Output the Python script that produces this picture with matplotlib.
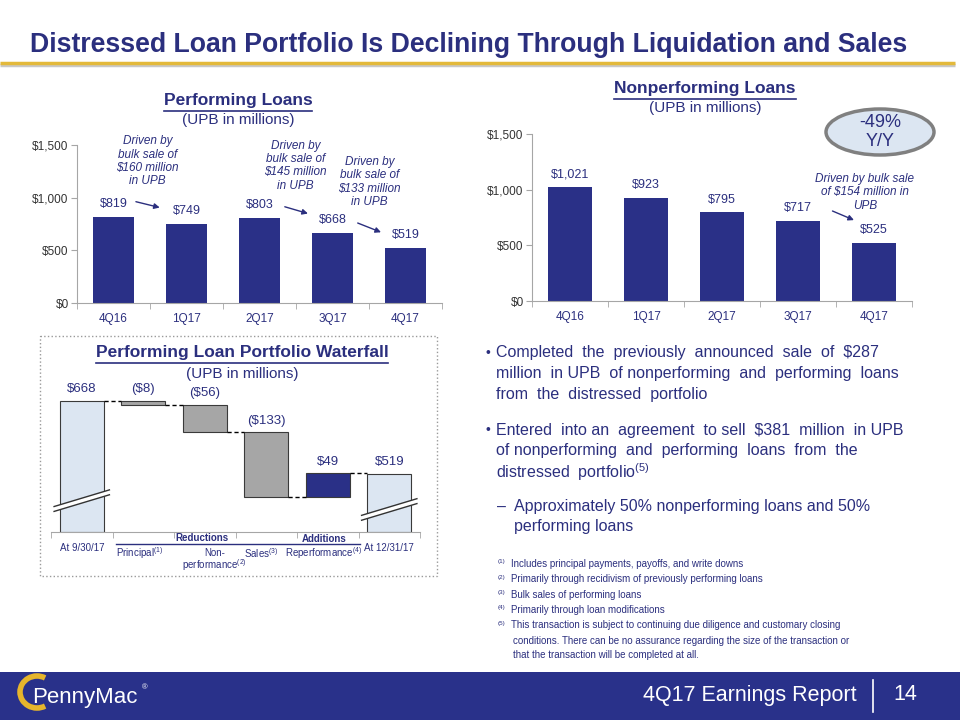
import matplotlib
matplotlib.use("Agg")
import matplotlib.pyplot as plt
from matplotlib.patches import Rectangle, Ellipse, Arc, Polygon
import numpy as np

plt.rcParams["font.family"] = ["Liberation Sans", "DejaVu Sans"]
plt.rcParams["mathtext.default"] = "regular"

# ---------- data ---------- #
quarters = ["4Q16", "1Q17", "2Q17", "3Q17", "4Q17"]
performing = [819, 749, 803, 668, 519]
nonperforming = [1021, 923, 795, 717, 525]
y_ticks = [0, 500, 1000, 1500]

wf_labels = ["At 9/30/17", "Principal$^{(1)}$", "Non-\nperformance$^{(2)}$",
             "Sales$^{(3)}$", "Reperformance$^{(4)}$", "At 12/31/17"]
wf_start, wf_end = 668, 519
wf_deltas = [-8, -56, -133, 49]
wf_text = ["$668", "($8)", "($56)", "($133)", "$49", "$519"]

NAVY = "#2A3087"
TXT = "#2B2F7E"
LIGHT = "#DCE6F2"
GOLD = "#E3B93B"
W, H = 960, 720


def rect(x0, y0, x1, y1):
    return [x0 / W, 1 - y1 / H, (x1 - x0) / W, (y1 - y0) / H]


fig = plt.figure(figsize=(9.6, 7.2), dpi=100)
ov = fig.add_axes([0, 0, 1, 1])
ov.set_xlim(0, W); ov.set_ylim(H, 0); ov.axis("off"); ov.set_zorder(-1)


def underline(t, y_off=2):
    fig.canvas.draw()
    bb = t.get_window_extent(renderer=fig.canvas.get_renderer())
    y = H - bb.y0 + y_off
    ov.plot([bb.x0, bb.x1], [y, y], color=TXT, lw=1.2)


# ---------- header / footer ---------- #
ov.text(30, 45, "Distressed Loan Portfolio Is Declining Through Liquidation and Sales",
        fontsize=19.2, fontweight="bold", color=TXT, va="center", ha="left")
ov.plot([0, 955], [65, 65], color="#C8C8C8", lw=2.5, solid_capstyle="butt")
ov.plot([0, 955], [63, 63], color=GOLD, lw=2.5, solid_capstyle="butt")
ov.add_patch(Rectangle((0, 672), W, 48, color="#29318A", lw=0))
ov.text(857, 695, "4Q17 Earnings Report", color="white", fontsize=15.5, ha="right", va="center")
ov.plot([873, 873], [680, 712], color="white", lw=1.2)
ov.text(905, 695, "14", color="white", fontsize=15.5, ha="center", va="center")
ov.add_patch(Arc((37, 692), 34, 32, theta1=60, theta2=300, color="#E6B52C", lw=4))
ov.text(32, 697, "PennyMac", color="white", fontsize=16, ha="left", va="center")
ov.text(145, 688, "®", color="white", fontsize=5.5, ha="center", va="center")


def style_bar_axes(ax):
    ax.set_facecolor("none")
    for s in ["top", "right"]:
        ax.spines[s].set_visible(False)
    for s in ["left", "bottom"]:
        ax.spines[s].set_color("#A6A6A6")
    ax.set_ylim(0, 1500)
    ax.set_yticks(y_ticks)
    ax.set_yticklabels([f"${v:,}" for v in y_ticks], fontsize=8.5, color="#333333")
    ax.tick_params(axis="y", length=4, color="#A6A6A6", pad=2)
    ax.set_xlim(-0.5, 4.5)
    ax.set_xticks(range(len(quarters)))
    ax.set_xticklabels(quarters, fontsize=8.5, color=TXT)
    ax.set_xticks(np.arange(-0.5, 5, 1), minor=True)
    ax.tick_params(axis="x", which="major", length=0, pad=7)
    ax.tick_params(axis="x", which="minor", length=4, color="#A6A6A6")


def value_labels(ax, vals):
    for i, v in enumerate(vals):
        ax.annotate(f"${v:,}", (i, v), xytext=(0, 5), textcoords="offset points",
                    ha="center", va="bottom", fontsize=9, color=TXT)


arrow_kw = dict(arrowstyle="-|>", color=TXT, lw=1.0, mutation_scale=8)

# ---------- performing loans ---------- #
ax1 = fig.add_axes(rect(77, 145, 442, 303))
ax1.bar(range(len(quarters)), performing, width=0.57, color=NAVY)
style_bar_axes(ax1)
value_labels(ax1, performing)
t = ov.text(238, 101, "Performing Loans", fontsize=12.5, fontweight="bold", color=TXT,
            ha="center", va="center")
underline(t)
ov.text(238, 120, "(UPB in millions)", fontsize=11, color=TXT, ha="center", va="center")
notes = [(0.47, 1345, "Driven by\nbulk sale of\n$160 million\nin UPB", (0.27, 968), (0.67, 900)),
         (2.49, 1305, "Driven by\nbulk sale of\n$145 million\nin UPB", (2.31, 921), (2.70, 842)),
         (3.51, 1150, "Driven by\nbulk sale of\n$133 million\nin UPB", (3.31, 769), (3.70, 662))]
for x, y, s, a, b in notes:
    ax1.text(x, y, s, ha="center", va="center", fontsize=8.5, style="italic",
             color=TXT, linespacing=1.15, clip_on=False)
    ax1.annotate("", xy=b, xytext=a, arrowprops=arrow_kw, annotation_clip=False)

# ---------- nonperforming loans ---------- #
ax2 = fig.add_axes(rect(532, 134, 912, 301))
ax2.bar(range(len(quarters)), nonperforming, width=0.57, color=NAVY)
style_bar_axes(ax2)
value_labels(ax2, nonperforming)
t = ov.text(705, 89, "Nonperforming Loans", fontsize=12.5, fontweight="bold", color=TXT,
            ha="center", va="center")
underline(t)
ov.text(705, 108, "(UPB in millions)", fontsize=11, color=TXT, ha="center", va="center")
ax2.text(3.88, 975, "Driven by bulk sale\nof $154 million in\nUPB", ha="center", va="center",
         fontsize=8.5, style="italic", color=TXT, linespacing=1.15, clip_on=False)
ax2.annotate("", xy=(3.77, 717), xytext=(3.42, 818), arrowprops=arrow_kw, annotation_clip=False)
ov.add_patch(Ellipse((880, 132), 108, 46, facecolor=LIGHT, edgecolor="#808080", lw=2.5))
ov.text(880, 132, "-49%\nY/Y", fontsize=13, color=TXT, ha="center", va="center", linespacing=1.1)

# ---------- waterfall ---------- #
ov.add_patch(Rectangle((40, 336), 397, 240, fill=False, edgecolor="#9A9A9A", lw=1, ls=":"))
t = ov.text(242, 353, "Performing Loan Portfolio Waterfall", fontsize=12.5, fontweight="bold",
            color=TXT, ha="center", va="center")
underline(t)
ov.text(242, 374, "(UPB in millions)", fontsize=11, color=TXT, ha="center", va="center")

ax3 = fig.add_axes(rect(51, 340, 420, 532))
ax3.set_facecolor("none")
floor = 400
ax3.set_ylim(floor, 792)
ax3.set_xlim(-0.5, 5.5)
bw = 0.71
levels = np.concatenate([[wf_start], wf_start + np.cumsum(wf_deltas)])
ax3.bar(0, wf_start - floor, bottom=floor, width=bw, color=LIGHT, edgecolor="#3A3A3A", lw=0.8)
ax3.bar(5, wf_end - floor, bottom=floor, width=bw, color=LIGHT, edgecolor="#3A3A3A", lw=0.8)
for i, d in enumerate(wf_deltas):
    lo = min(levels[i], levels[i + 1])
    ax3.bar(i + 1, abs(d), bottom=lo, width=bw, color=NAVY if d > 0 else "#A6A6A6",
            edgecolor="#3A3A3A", lw=0.8)
conn = list(levels) + [wf_end]
for i in range(5):
    ax3.plot([i + bw / 2, i + 1 - bw / 2], [conn[i], conn[i]], color="black", lw=1, ls=(0, (3, 2)))
tops = [wf_start] + [max(levels[i], levels[i + 1]) for i in range(4)] + [wf_end]
for i, (v, s) in enumerate(zip(tops, wf_text)):
    ax3.annotate(s, (i, v), xytext=(0, 4), textcoords="offset points", ha="center",
                 va="bottom", fontsize=9.5, color=TXT)
# axis breaks on the total bars
for x, y0 in [(0, 442), (5, 424)]:
    xs = [x - 0.45, x + 0.45]
    ax3.add_patch(Polygon([(xs[0], y0), (xs[1], y0 + 34), (xs[1], y0 + 44), (xs[0], y0 + 10)],
                          closed=True, facecolor="white", edgecolor="none", clip_on=False, zorder=3))
    ax3.plot(xs, [y0, y0 + 34], color="#333333", lw=1, clip_on=False, zorder=4)
    ax3.plot(xs, [y0 + 10, y0 + 44], color="#333333", lw=1, clip_on=False, zorder=4)
for s in ["top", "right", "left"]:
    ax3.spines[s].set_visible(False)
ax3.spines["bottom"].set_color("#A6A6A6")
ax3.set_yticks([])
ax3.set_xticks([])
ax3.set_xticks(np.arange(-0.5, 6, 1), minor=True)
ax3.tick_params(axis="x", which="minor", length=4, color="#A6A6A6", labelbottom=False)

cx = [51 + (i + 0.5) * 61.5 for i in range(6)]
ov.text(cx[0], 548, wf_labels[0], fontsize=7, color=TXT, ha="center", va="center")
ov.text(cx[5], 548, wf_labels[5], fontsize=7, color=TXT, ha="center", va="center")
ov.text(cx[1] - 4, 553, wf_labels[1], fontsize=7, color=TXT, ha="center", va="center")
for k, part in enumerate(wf_labels[2].split("\n")):
    ov.text(cx[2] + 10, 553 + 12 * k, part, fontsize=7, color=TXT, ha="center", va="center")
ov.text(cx[3] - 5, 553, wf_labels[3], fontsize=7, color=TXT, ha="center", va="center")
ov.text(cx[4] - 4, 553, wf_labels[4], fontsize=7, color=TXT, ha="center", va="center")
ov.text(202, 538, "Reductions", fontsize=7, fontweight="bold", color=TXT, ha="center", va="center")
ov.text(324, 539, "Additions", fontsize=7, fontweight="bold", color=TXT, ha="center", va="center")
ov.plot([116, 360], [544, 544], color=TXT, lw=1)

# ---------- bullets ---------- #
bfs = 11.5
ov.text(485, 353, "•", fontsize=10, color=TXT, va="center")
for k, s in enumerate(["Completed  the  previously  announced  sale  of  $287",
                       "million  in UPB  of nonperforming  and  performing  loans",
                       "from  the  distressed  portfolio"]):
    ov.text(496, 353 + 20.5 * k, s, fontsize=bfs, color=TXT, va="center")
ov.text(485, 430, "•", fontsize=10, color=TXT, va="center")
for k, s in enumerate(["Entered  into an  agreement  to sell  $381  million  in UPB",
                       "of nonperforming  and  performing  loans  from  the",
                       "distressed  portfolio$^{(5)}$"]):
    ov.text(496, 430 + 21 * k, s, fontsize=bfs, color=TXT, va="center")
ov.text(497, 507, "–", fontsize=bfs, color=TXT, va="center")
ov.text(514, 507, "Approximately 50% nonperforming loans and 50%", fontsize=bfs, color=TXT, va="center")
ov.text(514, 527, "performing loans", fontsize=bfs, color=TXT, va="center")

# ---------- footnotes ---------- #
foot = [("(1)", "Includes principal payments, payoffs, and write downs"),
        ("(2)", "Primarily through recidivism of previously performing loans"),
        ("(3)", "Bulk sales of performing loans"),
        ("(4)", "Primarily through loan modifications"),
        ("(5)", "This transaction is subject to continuing due diligence and customary closing")]
for k, (n, s) in enumerate(foot):
    ov.text(498, 562 + 15.3 * k, n, fontsize=4.5, color=TXT, va="center")
    ov.text(511, 564 + 15.3 * k, s, fontsize=7, color=TXT, va="center")
ov.text(513, 641, "conditions. There can be no assurance regarding the size of the transaction or",
        fontsize=7, color=TXT, va="center")
ov.text(513, 655, "that the transaction will be completed at all.", fontsize=7, color=TXT, va="center")

fig.savefig("out.png", dpi=100)
